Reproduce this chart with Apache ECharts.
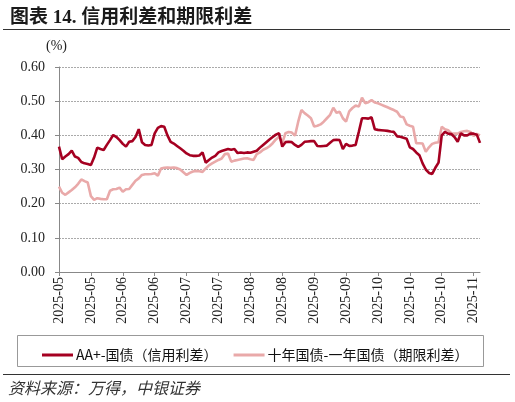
<!DOCTYPE html>
<html><head><meta charset="utf-8">
<script src="https://cdn.jsdelivr.net/npm/echarts@6/dist/echarts.min.js"></script>
<style>html,body{margin:0;padding:0;background:#fff}#c{width:515px;height:402px}</style>
</head><body><div id="c"></div>
<script>
const tickLabels = ['2025-05','2025-05','2025-06','2025-06','2025-07','2025-07','2025-08','2025-08','2025-09','2025-09','2025-10','2025-10','2025-10','2025-11'];
const creditSpread = [
0.367,0.330,0.338,0.345,0.355,0.338,0.334,0.322,0.318,0.316,
0.313,0.335,0.364,0.360,0.357,0.372,0.386,0.401,0.395,0.386,
0.375,0.367,0.381,0.383,0.395,0.418,0.380,0.372,0.370,0.372,
0.406,0.422,0.427,0.425,0.400,0.381,0.376,0.369,0.362,0.355,
0.347,0.342,0.340,0.340,0.341,0.350,0.320,0.328,0.335,0.340,
0.350,0.354,0.357,0.360,0.358,0.360,0.348,0.350,0.348,0.350,
0.349,0.352,0.355,0.364,0.372,0.380,0.388,0.395,0.402,0.406,
0.367,0.380,0.381,0.380,0.372,0.366,0.372,0.381,0.382,0.383,
0.383,0.369,0.368,0.369,0.370,0.378,0.386,0.387,0.386,0.360,
0.375,0.369,0.370,0.372,0.410,0.450,0.450,0.449,0.453,0.418,
0.416,0.415,0.414,0.413,0.411,0.410,0.397,0.396,0.393,0.390,
0.365,0.360,0.350,0.342,0.318,0.300,0.290,0.287,0.305,0.320,
0.400,0.410,0.405,0.404,0.395,0.381,0.406,0.400,0.400,0.405,
0.405,0.402,0.378];
const termSpread = [
0.250,0.232,0.226,0.233,0.240,0.248,0.258,0.271,0.266,0.262,
0.222,0.211,0.216,0.214,0.213,0.213,0.238,0.242,0.243,0.247,
0.235,0.242,0.243,0.255,0.267,0.274,0.284,0.286,0.286,0.287,
0.289,0.282,0.303,0.305,0.306,0.305,0.306,0.304,0.300,0.292,
0.284,0.290,0.294,0.296,0.295,0.293,0.303,0.312,0.318,0.323,
0.328,0.332,0.345,0.347,0.323,0.326,0.328,0.330,0.332,0.333,
0.330,0.328,0.345,0.350,0.358,0.362,0.368,0.377,0.388,0.396,
0.378,0.406,0.410,0.408,0.399,0.440,0.474,0.465,0.458,0.450,
0.426,0.428,0.432,0.440,0.450,0.460,0.481,0.466,0.469,0.450,
0.440,0.470,0.480,0.487,0.484,0.510,0.494,0.497,0.503,0.496,
0.494,0.490,0.486,0.482,0.478,0.474,0.469,0.455,0.453,0.432,
0.428,0.425,0.377,0.377,0.376,0.352,0.365,0.375,0.378,0.380,
0.425,0.418,0.415,0.406,0.405,0.405,0.410,0.412,0.413,0.410,
0.398,0.404,0.400];
const seriesNames = ['AA+-国债（信用利差）','十年国债-一年国债（期限利差）'];
const categories = creditSpread.map((_, i) => i);

const chart = echarts.init(document.getElementById('c'), null, {renderer:'canvas'});
const serif = '"Liberation Serif","Times New Roman",serif';
const cjk = '"Noto Sans CJK SC","Noto Sans",sans-serif';
chart.setOption({
  animation:false,
  backgroundColor:'#fff',
  title:{text:'图表 14. 信用利差和期限利差', left:5, top:4,
    textStyle:{fontFamily:'"Liberation Serif","Noto Sans CJK SC",serif', fontWeight:'bold', fontSize:19, color:'#1a1a1a'}},
  graphic:[
    {type:'line', shape:{x1:3,y1:29.5,x2:510,y2:29.5}, style:{stroke:'#333', lineWidth:1.2}},
    {type:'rect', shape:{x:17.5,y:335.5,width:466,height:31}, style:{fill:'none', stroke:'#999', lineWidth:1}},
    {type:'line', shape:{x1:3,y1:374.5,x2:510,y2:374.5}, style:{stroke:'#333', lineWidth:1.2}},
    {type:'text', left:8, top:380, style:{text:'资料来源：万得，中银证券', fontFamily:cjk, fontStyle:'italic', fontSize:16, fill:'#333'}},
    {type:'text', left:46, top:39, style:{text:'(%)', fontFamily:serif, fontSize:14, fill:'#222'}}
  ],
  legend:{data:seriesNames, left:37, top:343, itemWidth:31, itemHeight:3, itemGap:16,
    icon:'rect',
    textStyle:{fontFamily:cjk, fontSize:14, color:'#111', padding:[0,0,0,-2]}},
  grid:{left:59, right:35, top:67, bottom:130},
  xAxis:{type:'category', data:categories, boundaryGap:false,
    axisLine:{lineStyle:{color:'#888', width:1}},
    axisTick:{interval:9, length:4, lineStyle:{color:'#888'}},
    axisLabel:{interval:9, rotate:90, fontFamily:serif, fontSize:14, color:'#222', margin:5,
      formatter:(v, idx) => tickLabels[Math.round(idx/10)] || ''},
    splitLine:{show:false}},
  yAxis:{type:'value', min:0, max:0.6, interval:0.1,
    axisLine:{show:true, lineStyle:{color:'#888'}},
    axisTick:{show:true, length:4, lineStyle:{color:'#888'}},
    axisLabel:{fontFamily:serif, fontSize:14, color:'#222', margin:14, formatter:v => v.toFixed(2)},
    splitLine:{lineStyle:{color:'#aaa', type:[2,1], width:1}}},
  series:[
    {name:seriesNames[0], type:'line', data:creditSpread, symbol:'none', z:3,
      lineStyle:{color:'#A50021', width:2.6}, itemStyle:{color:'#A50021'}},
    {name:seriesNames[1], type:'line', data:termSpread, symbol:'none', z:2,
      lineStyle:{color:'#E9A9A9', width:2.6}, itemStyle:{color:'#E9A9A9'}}
  ]
});
</script></body></html>
